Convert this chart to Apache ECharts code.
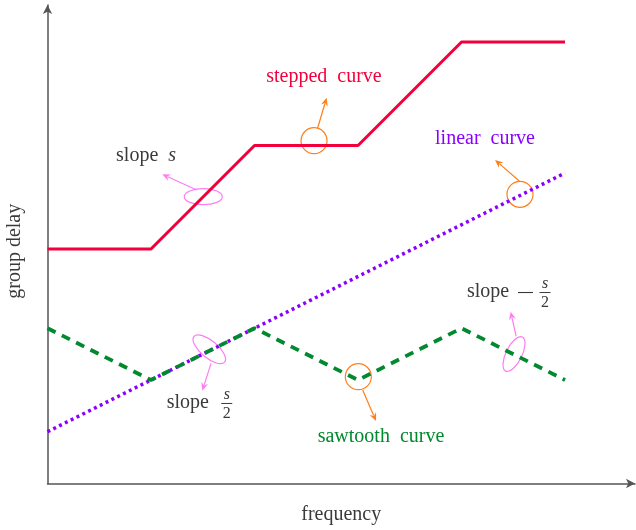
<!DOCTYPE html>
<html>
<head>
<meta charset="utf-8">
<script src="https://cdn.jsdelivr.net/npm/echarts@6/dist/echarts.min.js"></script>
<style>
  html, body { margin: 0; padding: 0; background: #fff; }
  #main { width: 636px; height: 530px; }
</style>
</head>
<body>
<div id="main"></div>
<script>
// data (x = frequency, y = group delay)
const freqSteps = [0, 1, 2, 3, 4, 5]
const delaySteps = [2.265, 2.265, 3.265, 3.265, 4.265, 4.265]

const freqLinear = [0, 5]
const delayLinear = [0.5, 3.0]

const freqSaw = [0, 1, 2, 3, 4, 5]
const delaySaw = [1.5, 1.0, 1.5, 1.0, 1.5, 1.0]

const axisNames = ['frequency', 'group delay']

const RED = '#f2003c'
const PURPLE = '#8a00ff'
const GREEN = '#00892e'
const ORANGE = '#ff7f1a'
const PINK = '#ff7cf0'
const GREY = '#3a3a3a'
const FONT = '"Liberation Serif", "DejaVu Serif", serif'

const pairs = (xs, ys) => xs.map((x, i) => [x, ys[i]])

const chart = echarts.init(document.getElementById('main'))

chart.setOption({
  animation: false,
  grid: { left: 47.5, top: 5, width: 587.5, height: 478.5, outerBoundsMode: 'none', containLabel: false },
  xAxis: {
    type: 'value',
    min: 0,
    max: 5.676,
    name: axisNames[0],
    nameLocation: 'middle',
    nameGap: 21,
    nameTextStyle: { fontFamily: FONT, fontSize: 20, color: GREY },
    axisLine: {
      show: true,
      symbol: ['none', 'arrow'],
      symbolSize: [7, 9],
      lineStyle: { color: '#555', width: 1.5 }
    },
    axisTick: { show: false },
    axisLabel: { show: false },
    splitLine: { show: false }
  },
  yAxis: {
    type: 'value',
    min: 0,
    max: 4.623,
    name: axisNames[1],
    nameLocation: 'middle',
    nameGap: 22.5,
    nameTextStyle: { fontFamily: FONT, fontSize: 20, color: GREY, padding: [0, 14, 0, 0] },
    axisLine: {
      show: true,
      symbol: ['none', 'arrow'],
      symbolSize: [7, 9],
      lineStyle: { color: '#555', width: 1.5 }
    },
    axisTick: { show: false },
    axisLabel: { show: false },
    splitLine: { show: false }
  },
  series: [
    {
      name: 'stepped curve',
      type: 'line',
      data: pairs(freqSteps, delaySteps),
      showSymbol: false,
      lineStyle: { color: RED, width: 3 }
    },
    {
      name: 'linear curve',
      type: 'line',
      data: pairs(freqLinear, delayLinear),
      showSymbol: false,
      lineStyle: { color: PURPLE, width: 3.5, type: [3, 3.5], cap: 'butt' }
    },
    {
      name: 'sawtooth curve',
      type: 'line',
      data: pairs(freqSaw, delaySaw),
      showSymbol: false,
      lineStyle: { color: GREEN, width: 3.8, type: [9, 7], cap: 'butt' }
    }
  ]
})

// annotations, anchored in data coordinates
const toPx = p => chart.convertToPixel({ gridIndex: 0 }, p)

const arrow = (from, to, color) => {
  const a = toPx(from)
  const b = toPx(to)
  const len = Math.hypot(b[0] - a[0], b[1] - a[1])
  const ux = (b[0] - a[0]) / len
  const uy = (b[1] - a[1]) / len
  const hl = 8, hw = 3.5
  const bx = b[0] - ux * hl, by = b[1] - uy * hl
  return [
    {
      type: 'line',
      shape: { x1: a[0], y1: a[1], x2: bx + ux * 2, y2: by + uy * 2 },
      style: { stroke: color, lineWidth: 1.2 }
    },
    {
      type: 'polygon',
      shape: {
        points: [
          [b[0], b[1]],
          [bx - uy * hw, by + ux * hw],
          [bx + ux * 2.5, by + uy * 2.5],
          [bx + uy * hw, by - ux * hw]
        ]
      },
      style: { fill: color }
    }
  ]
}

const ring = (c, r, color) => {
  const p = toPx(c)
  return {
    type: 'circle',
    shape: { cx: p[0], cy: p[1], r: r },
    style: { fill: 'none', stroke: color, lineWidth: 1.2 }
  }
}

const oval = (c, rx, ry, deg, color) => {
  const p = toPx(c)
  return {
    type: 'ellipse',
    x: p[0],
    y: p[1],
    rotation: deg * Math.PI / 180,
    shape: { cx: 0, cy: 0, rx: rx, ry: ry },
    style: { fill: 'none', stroke: color, lineWidth: 1.2 }
  }
}

const label = (c, text, color, align) => {
  const p = toPx(c)
  return {
    type: 'text',
    x: p[0],
    y: p[1],
    style: {
      text: text,
      fill: color,
      font: '20px ' + FONT,
      align: align || 'center',
      verticalAlign: 'middle',
      rich: {
        i: { fontStyle: 'italic', fontFamily: FONT, fontSize: 20, fill: color }
      }
    }
  }
}

// "slope" followed by an optional minus and a stacked s/2 fraction
const fracLabel = (c, minus) => {
  const p = toPx(c)
  const fx = minus ? 78 : 60
  const parts = [
    { type: 'text', x: 0, y: 0, style: { text: 'slope', fill: GREY, font: '20px ' + FONT, align: 'left', verticalAlign: 'middle' } },
    { type: 'text', x: fx, y: -8.5, style: { text: 's', fill: GREY, font: 'italic 16px ' + FONT, align: 'center', verticalAlign: 'middle' } },
    { type: 'line', shape: { x1: fx - 5.5, y1: 0.5, x2: fx + 5.5, y2: 0.5 }, style: { stroke: GREY, lineWidth: 1 } },
    { type: 'text', x: fx, y: 11, style: { text: '2', fill: GREY, font: '16px ' + FONT, align: 'center', verticalAlign: 'middle' } }
  ]
  if (minus) {
    parts.push({ type: 'line', shape: { x1: 51, y1: 0.5, x2: 66, y2: 0.5 }, style: { stroke: GREY, lineWidth: 1.1 } })
  }
  return { type: 'group', x: p[0], y: p[1], children: parts }
}

const graphics = [
  // stepped curve
  ring([2.575, 3.312], 13, ORANGE),
  ...arrow([2.61, 3.435], [2.697, 3.727], ORANGE),
  label([2.671, 3.93], 'stepped  curve', RED),
  // linear curve
  ring([4.565, 2.794], 13, ORANGE),
  ...arrow([4.558, 2.923], [4.324, 3.126], ORANGE),
  label([4.227, 3.329], 'linear  curve', PURPLE),
  // sawtooth curve
  ring([3.003, 1.032], 13, ORANGE),
  ...arrow([3.045, 0.903], [3.174, 0.604], ORANGE),
  label([3.222, 0.452], 'sawtooth  curve', GREEN),
  // slope s
  oval([1.505, 2.771], 19, 8, 0, PINK),
  ...arrow([1.442, 2.836], [1.109, 2.987], PINK),
  label([0.952, 3.164], 'slope  {i|s}', GREY),
  // slope s/2
  oval([1.563, 1.297], 20, 8.5, -40, PINK),
  ...arrow([1.58, 1.161], [1.496, 0.897], PINK),
  fracLabel([1.152, 0.778], false),
  // slope -s/2
  oval([4.507, 1.251], 19, 8, 64, PINK),
  ...arrow([4.527, 1.425], [4.475, 1.66], PINK),
  fracLabel([4.053, 1.85], true)
]

chart.setOption({ graphic: graphics.map(g => Object.assign({ silent: true }, g)) })
</script>
</body>
</html>
